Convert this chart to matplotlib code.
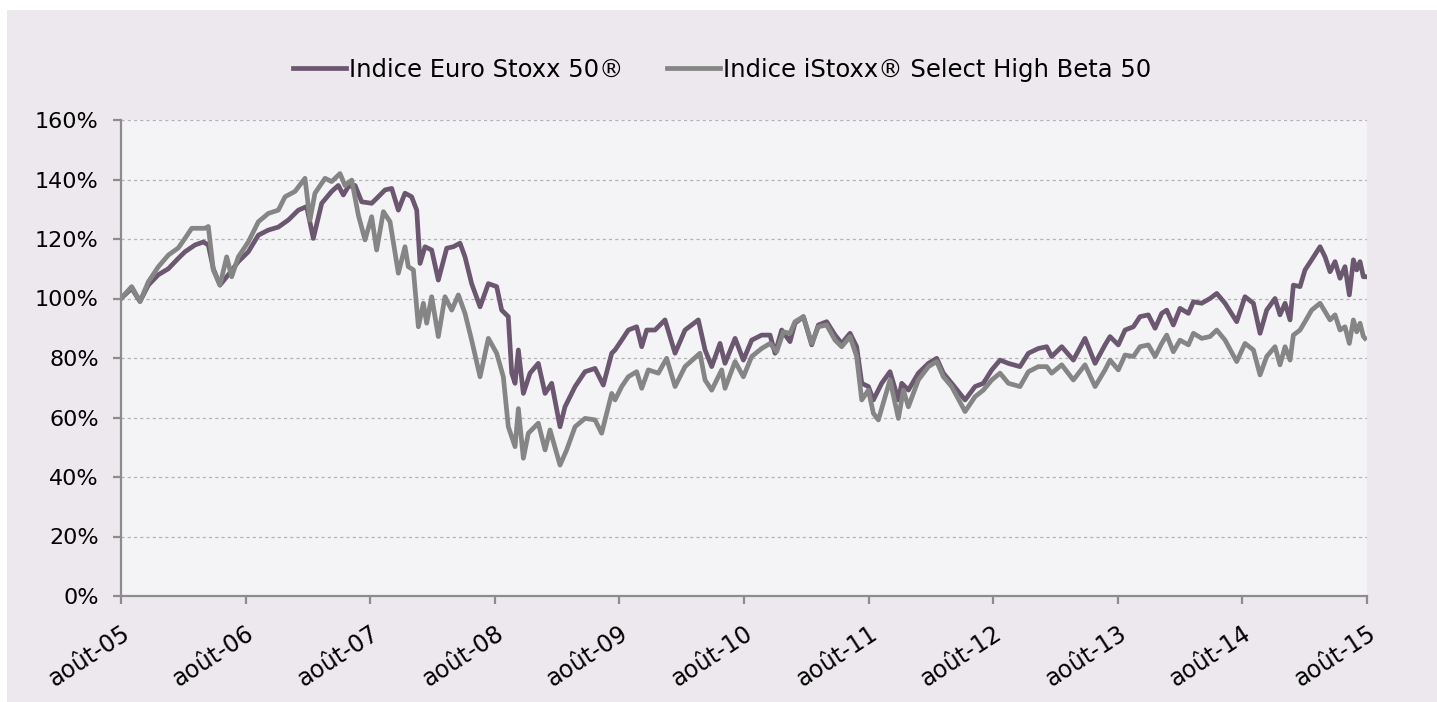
import matplotlib
matplotlib.use("Agg")
import matplotlib.pyplot as plt
from matplotlib.patches import Rectangle

# months since août-05 and index level (%)
euro_months = [
    0, 1.03, 1.83, 2.63, 3.60, 4.56, 5.52, 6.16, 7.13, 7.93, 8.41, 8.89, 9.53,
    10.34, 11.30, 12.26, 13.23, 14.19, 15.15, 16.12, 17.08, 17.88, 18.52, 19.33,
    20.29, 20.93, 21.41, 21.89, 22.54, 23.18, 24.14, 24.78, 25.43, 26.07, 26.71,
    27.35, 27.99, 28.48, 28.80, 29.28, 29.92, 30.56, 31.37, 32.01, 32.65, 33.13,
    33.77, 34.58, 35.38, 36.18, 36.66, 37.30, 37.63, 37.95, 38.27, 38.75, 39.39,
    40.19, 40.84, 41.48, 42.28, 42.76, 43.73, 44.69, 45.65, 46.45, 47.26, 47.58,
    48.22, 48.86, 49.66, 50.15, 50.63, 51.43, 52.39, 53.36, 54.32, 55.60, 56.25,
    56.89, 57.69, 58.17, 59.14, 59.94, 60.74, 61.70, 62.51, 62.99, 63.63, 64.43,
    64.91, 65.72, 66.52, 67.16, 67.96, 68.77, 69.41, 70.21, 70.85, 71.34, 71.98,
    72.46, 73.26, 74.06, 74.87, 75.19, 75.83, 76.79, 77.76, 78.56, 79.20, 80.00,
    81.29, 82.25, 83.05, 83.86, 84.66, 85.46, 86.58, 87.39, 88.35, 89.15, 89.63,
    90.60, 91.72, 92.84, 93.81, 94.77, 95.25, 96.05, 96.70, 97.50, 98.14, 98.94,
    99.59, 100.23, 100.71, 101.35, 101.99, 102.80, 103.28, 104.08, 104.88, 105.53,
    106.33, 107.45, 108.25, 109.06, 109.70, 110.34, 111.14, 111.62, 112.11, 112.59,
    112.91, 113.55, 114.03, 114.67, 115.48, 115.96, 116.44, 116.92, 117.40, 117.88,
    118.30, 118.69, 119.01, 119.33, 119.65, 119.81,
]
euro = [
    100, 103.4, 99, 104.5, 108, 110, 113.5, 115.7, 118, 119, 118, 110, 104.5,
    108, 112.4, 115.7, 121.3, 123, 124, 126.4, 129.7, 130.9, 120.2, 132,
    136, 138, 134.8, 137.6, 138, 132.5, 132, 134.2, 136.5, 137, 129.7,
    135.4, 134.2, 129.7, 111.8, 117.4, 116.3, 106.2, 116.9, 117.4, 118.6, 114,
    105, 97.2, 105, 104, 96.1, 93.9, 74.9, 71.5, 82.7, 68.1, 74.9,
    78.2, 68.1, 71.5, 56.9, 63.6, 70.4, 75.4, 76.5, 70.9, 81.6, 82.7,
    86, 89.4, 90.5, 83.8, 89.4, 89.4, 92.8, 81.6, 89.4, 92.8, 82.7,
    77.1, 84.9, 78.2, 86.6, 79.3, 86, 87.7, 87.7, 81.6, 89.4, 85.5,
    91.7, 93.9, 84.4, 91.1, 92.2, 87.7, 84.9, 88.3, 83.8, 71.5, 70.4,
    65.9, 71.5, 75.4, 65.9, 71.5, 69.2, 74.9, 78.2, 79.9, 74.9, 71.5,
    65.9, 70.4, 71.5, 76, 79.3, 78.2, 77.1, 81.6, 83.2, 83.8, 80.5,
    83.8, 79.3, 86.6, 78.2, 84.4, 87.2, 84.4, 89.4, 90.5, 93.9, 94.5,
    90, 95, 96.1, 91.1, 96.7, 95, 98.9, 98.4, 100, 101.7,
    98.4, 92.2, 100.6, 98.4, 88.3, 96.1, 100, 94.5, 98.4, 92.8,
    104.5, 104, 109.6, 113, 117.4, 114, 109, 112.4, 106.8, 110.7,
    101.2, 113, 109.6, 112.4, 107.3, 107.3,
]

beta_months = [
    0, 1.03, 1.83, 2.63, 3.60, 4.56, 5.52, 6.16, 6.81, 8.09, 8.41, 8.89, 9.53,
    10.18, 10.66, 11.30, 12.26, 13.23, 14.19, 15.15, 15.80, 16.76, 17.72, 18.20,
    18.68, 19.65, 20.29, 21.09, 21.57, 22.22, 22.86, 23.50, 24.14, 24.62, 25.27,
    25.91, 26.71, 27.35, 27.67, 28.16, 28.64, 29.12, 29.44, 29.92, 30.56, 31.20,
    31.85, 32.49, 33.13, 33.77, 34.58, 35.38, 36.18, 36.82, 37.30, 37.95, 38.27,
    38.75, 39.23, 40.19, 40.84, 41.32, 42.28, 42.92, 43.73, 44.69, 45.65, 46.29,
    47.26, 47.58, 48.22, 48.86, 49.66, 50.15, 50.79, 51.75, 52.55, 53.36, 54.32,
    55.76, 56.25, 56.89, 57.85, 58.17, 59.14, 59.94, 60.74, 61.70, 62.51, 63.15,
    63.79, 64.43, 64.91, 65.72, 66.52, 67.16, 67.96, 68.77, 69.41, 70.21, 70.85,
    71.34, 71.98, 72.46, 72.94, 74.06, 74.87, 75.35, 75.83, 76.79, 77.76, 78.56,
    79.20, 80.00, 81.29, 82.25, 83.05, 83.86, 84.66, 85.46, 86.58, 87.39, 88.35,
    89.15, 89.63, 90.60, 91.72, 92.84, 93.81, 94.77, 95.25, 96.05, 96.70, 97.50,
    98.14, 98.94, 99.59, 100.23, 100.71, 101.35, 101.99, 102.80, 103.28, 104.08,
    104.88, 105.53, 106.33, 107.45, 108.25, 109.06, 109.70, 110.34, 111.14, 111.62,
    112.11, 112.59, 112.91, 113.55, 114.03, 114.67, 115.48, 115.96, 116.44, 116.92,
    117.40, 117.88, 118.30, 118.69, 119.01, 119.33, 119.65, 119.81,
]
beta = [
    100, 104, 99, 105.6, 110.7, 114.6, 117, 120.2, 123.6, 123.6, 124.2, 109.6, 104.5,
    114, 107.3, 114, 119, 125.8, 128.6, 129.7, 134.2, 136, 140.4, 126.4,
    135.4, 140.4, 139.3, 142, 138, 139.8, 128, 119.7, 127.5, 116.3, 129.2,
    125.8, 108.5, 117.4, 110.7, 109.6, 90.5, 98.4, 91.7, 100.6, 87.2, 100.6,
    96.1, 101.2, 95, 86, 73.7, 86.6, 81.6, 73.7, 56.9, 50.2, 63,
    46.3, 54.7, 58.1, 49.1, 55.8, 44, 49.1, 56.9, 59.7, 59.2, 54.7,
    68.1, 65.9, 70.4, 73.7, 75.4, 69.8, 76, 74.9, 79.9, 70.4, 77.1,
    81.6, 72.6, 69.2, 76, 69.8, 78.8, 73.7, 80.5, 83.2, 84.9, 82.1,
    88.8, 88.3, 92.2, 93.9, 84.9, 90.5, 91.1, 86, 83.8, 87.2, 80.5,
    65.9, 69.2, 61.4, 59.2, 72.6, 59.7, 69.2, 63.6, 72.6, 77.1, 78.8,
    73.7, 70.4, 62, 67, 69.2, 72.6, 74.9, 71.5, 70.4, 75.4, 77.1,
    77.1, 74.9, 77.7, 72.6, 77.7, 70.4, 76, 79.3, 76, 81, 80.5,
    83.8, 84.4, 80.5, 84.9, 87.7, 82.1, 86, 84.4, 88.3, 86.6,
    87.2, 89.4, 86, 78.8, 84.9, 82.7, 74.3, 80.5, 83.8, 77.7,
    83.8, 79.3, 87.7, 89.4, 92.2, 96.1, 98.4, 95.6, 92.8, 94.5,
    89.4, 90.5, 84.9, 92.8, 88.8, 91.7, 87.2, 86.6,
]

tick_months = list(range(0, 121, 12))
tick_labels = ["août-05", "août-06", "août-07", "août-08", "août-09", "août-10",
               "août-11", "août-12", "août-13", "août-14", "août-15"]
series_names = ["Indice Euro Stoxx 50®", "Indice iStoxx® Select High Beta 50"]

PURPLE = "#6c5770"
GREY = "#858585"
AXIS = "#8c8c8c"

plt.rcParams["font.family"] = ["DejaVu Sans"]

W, H = 1437, 702
fig = plt.figure(figsize=(W / 100, H / 100), dpi=100)
fig.patch.set_facecolor("white")
fig.patches.append(Rectangle((7 / W, 0), 1 - 7 / W, (H - 10) / H,
                             transform=fig.transFigure, facecolor="#ede8ed",
                             edgecolor="none", zorder=-10))

ax = fig.add_axes([121 / W, (H - 596) / H, 1246 / W, 476 / H])
ax.set_facecolor("#f4f4f6")

ax.plot(euro_months, euro, color=PURPLE, lw=3.4, label=series_names[0],
        solid_joinstyle="round")
ax.plot(beta_months, beta, color=GREY, lw=3.4, label=series_names[1],
        solid_joinstyle="round")

ax.set_xlim(0, 120)
ax.set_ylim(0, 160)
ax.set_yticks(range(0, 161, 20))
ax.set_yticklabels([f"{v}%" for v in range(0, 161, 20)])
ax.set_xticks(tick_months)
ax.set_xticklabels(tick_labels, rotation=33, ha="right", va="top",
                   rotation_mode="anchor", fontsize=17)

ax.yaxis.grid(True, color="#b4b4b4", lw=0.9, ls=(0, (2.5, 2.5)))
ax.set_axisbelow(True)
for s in ["top", "right"]:
    ax.spines[s].set_visible(False)
for s in ["left", "bottom"]:
    ax.spines[s].set_color(AXIS)
    ax.spines[s].set_linewidth(1.6)
ax.tick_params(axis="both", direction="out", length=6, width=1.6, color=AXIS,
               labelcolor="black")
ax.tick_params(axis="y", pad=10, labelsize=16)
ax.tick_params(axis="x", pad=12)

fig.legend(loc="center", bbox_to_anchor=(722 / W, 1 - 70 / H), ncol=2,
           frameon=False, fontsize=17.5, handlelength=2.2, handletextpad=0.1,
           columnspacing=1.8)

fig.savefig("out.png", dpi=100)
